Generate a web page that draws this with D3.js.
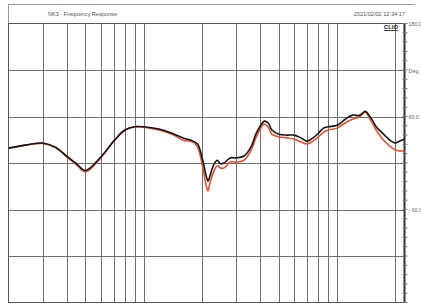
<!DOCTYPE html>
<html>
<head>
<meta charset="utf-8">
<script src="https://cdnjs.cloudflare.com/ajax/libs/d3/7.8.5/d3.min.js"></script>
<style>
  html, body { margin: 0; padding: 0; background: #fff; }
  svg { display: block; font-family: "Liberation Sans", Arial, sans-serif; }
</style>
</head>
<body>
<div id="chart"></div>
<script>
/* NK3 frequency response, two traces on a log frequency axis */

var freqs = [200, 250, 300, 350, 400, 450, 500, 600, 700, 800, 900, 1000, 1200, 1400, 1600, 1800, 1900,
  2000, 2100, 2150, 2200, 2300, 2400, 2500, 2600, 2800, 3000, 3300, 3600, 3800, 4000, 4200, 4400, 4600,
  5000, 5500, 6000, 6500, 7000, 7500, 8000, 8500, 9000, 10000, 11000, 12000, 13000, 13500, 14000,
  15000, 16000, 17000, 18000, 19000, 20000, 21000, 22300];

var blackDb = [73.2, 73.9, 74.3, 73.4, 71.5, 69.8, 68.4, 71.3, 74.7, 77.1, 77.8, 77.8, 77.3, 76.4, 75.4, 74.7, 74.1,
  71.3, 67.4, 66.1, 67.2, 69.6, 70.6, 69.8, 70.0, 71.1, 71.1, 71.5, 73.6, 76.2, 77.9, 79.0, 78.6, 77.1,
  76.2, 76.0, 76.0, 75.4, 74.7, 75.4, 76.4, 77.5, 77.8, 78.1, 79.4, 80.3, 80.2, 80.7, 81.1,
  79.6, 77.7, 76.6, 75.6, 74.7, 74.3, 74.7, 75.1];

var redDb = [73.2, 73.9, 74.2, 73.3, 71.3, 69.6, 68.1, 71.1, 74.7, 77.1, 77.8, 77.7, 77.1, 76.2, 74.9, 74.5, 73.4,
  70.0, 65.3, 64.0, 65.7, 68.1, 69.4, 68.9, 68.9, 70.2, 70.2, 70.6, 72.8, 75.4, 77.3, 78.4, 77.7, 76.2,
  75.6, 75.4, 75.1, 74.5, 74.1, 74.7, 75.6, 76.6, 77.1, 77.5, 78.6, 79.4, 79.9, 80.5, 80.9,
  79.0, 76.9, 75.4, 74.3, 73.4, 72.8, 72.6, 72.6];

var freqGrid = [300, 400, 500, 600, 700, 800, 900, 1000, 2000, 3000, 4000, 5000, 6000, 7000, 8000, 9000, 10000, 20000];
var dbGrid = [50, 60, 70, 80, 90];
var phaseTicks = [180, 60, -60];

var title = "NK3 - Frequency Response",
  stamp = "2021/02/02 12:34:17";

(function () {
  "use strict";

  var width = 421,
    height = 304,
    left = 8.5,
    right = 404.5,
    plotTop = 23.5,
    bottom = 302.5;

  var svg = d3.select("#chart").append("svg")
    .attr("width", width)
    .attr("height", height);

  // Scales: log frequency, dB on the hidden left side, phase on the right.
  var x = d3.scaleLog().domain([200, 22300]).range([left, right]);
  var y = d3.scaleLinear().domain([40, 100]).range([bottom, plotTop]);
  var yPhase = d3.scaleLinear().domain([-180, 180]).range([bottom, plotTop]);

  // Header strip.
  svg.append("path")
    .attr("d", "M" + left + "," + plotTop + "V4.5H415")
    .attr("fill", "none")
    .attr("stroke", "#9a9a9a");

  svg.append("text")
    .attr("x", 48)
    .attr("y", 16)
    .attr("font-size", 5.6)
    .attr("fill", "#555")
    .text(title);

  svg.append("text")
    .attr("x", 405)
    .attr("y", 16)
    .attr("text-anchor", "end")
    .attr("font-size", 5.6)
    .attr("fill", "#555")
    .text(stamp);

  // Grid.
  var grid = svg.append("g").attr("stroke", "#6e6e6e").attr("stroke-width", 1);

  grid.selectAll(".vx")
    .data(freqGrid)
    .enter().append("line")
    .attr("x1", d => Math.round(x(d)) + 0.5)
    .attr("x2", d => Math.round(x(d)) + 0.5)
    .attr("y1", plotTop)
    .attr("y2", bottom);

  grid.selectAll(".hy")
    .data(dbGrid)
    .enter().append("line")
    .attr("x1", left)
    .attr("x2", right)
    .attr("y1", d => Math.round(y(d)) + 0.5)
    .attr("y2", d => Math.round(y(d)) + 0.5);

  // Frame.
  svg.append("rect")
    .attr("x", left)
    .attr("y", plotTop)
    .attr("width", right - left)
    .attr("height", bottom - plotTop)
    .attr("fill", "none")
    .attr("stroke", "#555");

  // Right phase axis, thick line with minor ticks.
  svg.append("line")
    .attr("x1", right)
    .attr("x2", right)
    .attr("y1", plotTop)
    .attr("y2", bottom)
    .attr("stroke", "#333")
    .attr("stroke-width", 2);

  var minor = d3.range(-180, 181, 12);
  svg.append("g").selectAll("line")
    .data(minor)
    .enter().append("line")
    .attr("x1", right - 2)
    .attr("x2", right + 3)
    .attr("y1", d => yPhase(d))
    .attr("y2", d => yPhase(d))
    .attr("stroke", "#777")
    .attr("stroke-width", 1);

  svg.append("g").selectAll("text")
    .data(phaseTicks)
    .enter().append("text")
    .attr("x", right + 4)
    .attr("y", d => yPhase(d) + 2)
    .attr("font-size", 5.4)
    .attr("fill", "#666")
    .text(d => d3.format(".1f")(d));

  svg.append("text")
    .attr("x", right + 4)
    .attr("y", Math.round(y(90)) + 2.5)
    .attr("font-size", 5.4)
    .attr("fill", "#666")
    .text("Deg");

  // CLIO badge.
  svg.append("text")
    .attr("x", 391)
    .attr("y", 29)
    .attr("text-anchor", "middle")
    .attr("font-size", 6)
    .attr("font-weight", "bold")
    .attr("fill", "#222")
    .text("CLIO");
  svg.append("line")
    .attr("x1", 384).attr("x2", 398)
    .attr("y1", 30.5).attr("y2", 30.5)
    .attr("stroke", "#444");

  // Traces, red underneath black.
  var line = d3.line()
    .x(d => x(d[0]))
    .y(d => y(d[1]))
    .curve(d3.curveCatmullRom.alpha(0.5));

  var traces = [
    { name: "red", values: redDb, color: "#e2522d" },
    { name: "black", values: blackDb, color: "#151515" }
  ];

  svg.append("g").selectAll("path")
    .data(traces)
    .enter().append("path")
    .attr("fill", "none")
    .attr("stroke", d => d.color)
    .attr("stroke-width", 1.6)
    .attr("stroke-linejoin", "round")
    .attr("d", d => line(freqs.map((f, i) => [f, d.values[i]])));
})();
</script>
</body>
</html>
